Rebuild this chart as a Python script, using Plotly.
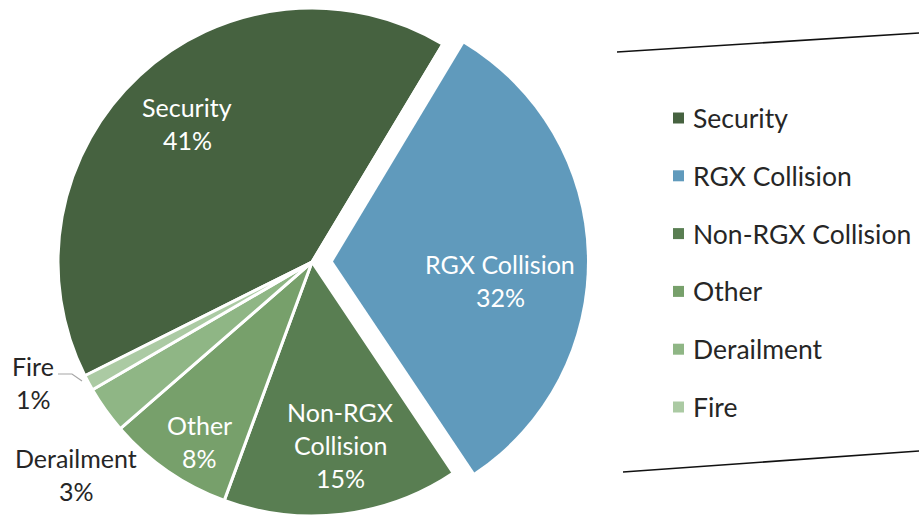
import math
import plotly.graph_objects as go

# ---------------- data ----------------
categories = ["Security", "RGX Collision", "Non-RGX Collision", "Other", "Derailment", "Fire"]
shares = [41, 32, 15, 8, 3, 1]
colors = ["#466240", "#609ABC", "#597E52", "#77A06B", "#8FB685", "#ABCAA3"]
label_lines = [["Security"], ["RGX Collision"], ["Non-RGX", "Collision"], ["Other"], ["Derailment"], ["Fire"]]
label_inside = [True, True, True, True, False, False]
pulled_category = "RGX Collision"

# ---------------- layout constants ----------------
W, H = 919, 517
FONT = "Lato"


def px(x):
    return x / W


def py(y):
    return 1 - y / H


cx, cy, R = 312, 262, 254        # main pie centre / radius (pixels)
pull_px = 21                      # exploded distance of the pulled slice
rotation = -116.6                 # start angle of first slice (clockwise from 12 o'clock)
TRANSPARENT = "rgba(0,0,0,0)"

total = sum(shares)
pi_idx = categories.index(pulled_category)
start = rotation + 360 * sum(shares[:pi_idx]) / total
mid = math.radians(start + 180 * shares[pi_idx] / total)
dx, dy = pull_px * math.sin(mid), -pull_px * math.cos(mid)

main_colors = [TRANSPARENT if c == pulled_category else col for c, col in zip(categories, colors)]
pull_colors = [col if c == pulled_category else TRANSPARENT for c, col in zip(categories, colors)]

fig = go.Figure()
fig.add_trace(go.Pie(
    labels=categories, values=shares, sort=False, direction="clockwise",
    rotation=rotation, textinfo="none", hoverinfo="label+percent",
    marker=dict(colors=main_colors, line=dict(color="white", width=3)),
    domain=dict(x=[px(cx - R), px(cx + R)], y=[py(cy + R), py(cy - R)]),
    showlegend=False,
))
fig.add_trace(go.Pie(
    labels=categories, values=shares, sort=False, direction="clockwise",
    rotation=rotation, textinfo="none", hoverinfo="label+percent",
    marker=dict(colors=pull_colors, line=dict(color="white", width=0)),
    domain=dict(x=[px(cx + dx - R), px(cx + dx + R)], y=[py(cy + dy + R), py(cy + dy - R)]),
    showlegend=False,
))

# ---------------- data labels ----------------
label_pos = [(187, 123), (500, 280), (340, 445), (199, 441), (76, 474), (33, 382)]
LINE_GAP = 33
annotations = []
for lines, share, inside, (lx, ly) in zip(label_lines, shares, label_inside, label_pos):
    all_lines = lines + [f"{share}%"]
    n = len(all_lines)
    for i, t in enumerate(all_lines):
        yy = ly + (i - (n - 1) / 2) * LINE_GAP
        annotations.append(dict(
            x=px(lx), y=py(yy), xref="paper", yref="paper", text=t, showarrow=False,
            xanchor="center", yanchor="middle",
            font=dict(family=FONT, size=25, color="white" if inside else "#262626"),
        ))

# ---------------- legend ----------------
LEG_X, LEG_Y0, LEG_STEP, SW = 691, 118, 57.8, 11
shapes = []
for i, (c, col) in enumerate(zip(categories, colors)):
    yy = LEG_Y0 + i * LEG_STEP
    shapes.append(dict(type="rect", xref="paper", yref="paper",
                       x0=px(673), x1=px(673 + SW),
                       y0=py(yy + SW / 2), y1=py(yy - SW / 2),
                       fillcolor=col, line=dict(width=0)))
    annotations.append(dict(x=px(LEG_X), y=py(yy), xref="paper", yref="paper", text=c,
                            showarrow=False, xanchor="left", yanchor="middle",
                            font=dict(family=FONT, size=26.5, color="#262626")))

# decorative lines around legend
shapes.append(dict(type="line", xref="paper", yref="paper", x0=px(617), y0=py(52), x1=px(919), y1=py(33),
                   line=dict(color="#111111", width=1.6)))
shapes.append(dict(type="line", xref="paper", yref="paper", x0=px(623), y0=py(472), x1=px(919), y1=py(451),
                   line=dict(color="#111111", width=1.6)))
# leader line for the Fire label
shapes.append(dict(type="path", xref="paper", yref="paper",
                   path=f"M {px(58)} {py(374)} L {px(72)} {py(374)} L {px(82)} {py(381)}",
                   line=dict(color="#A6A6A6", width=1.2)))

fig.update_layout(
    width=W, height=H, margin=dict(l=0, r=0, t=0, b=0),
    paper_bgcolor="white", plot_bgcolor="white",
    showlegend=False, annotations=annotations, shapes=shapes,
    font=dict(family=FONT),
)

fig.write_html("out.html", config={"displayModeBar": False},
               post_script="document.body.style.margin='0';document.body.style.overflow='hidden';")
